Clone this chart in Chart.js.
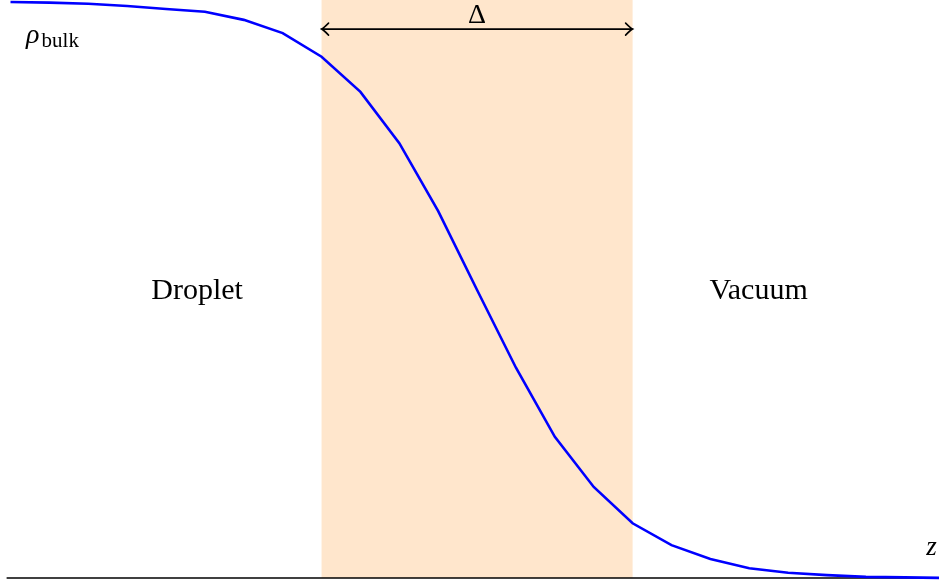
<!DOCTYPE html>
<html>
<head>
<meta charset="utf-8">
<script src="https://cdn.jsdelivr.net/npm/chart.js@4.4.1/dist/chart.umd.min.js"></script>
<style>
  html, body { margin: 0; padding: 0; background: #fff; }
  #wrap { width: 939px; height: 588px; position: relative; }
</style>
</head>
<body>
<div id="wrap"><canvas id="profile"></canvas></div>
<script>
// density profile across the droplet surface, sampled along z
const zSamples = [-12, -11, -10, -9, -8, -7, -6, -5, -4, -3, -2, -1, 0,
                  1, 2, 3, 4, 5, 6, 7, 8, 9, 10, 11, 12];
const density  = [1.000, 0.999, 0.997, 0.993, 0.988, 0.983, 0.969, 0.946, 0.905,
                  0.844, 0.755, 0.637, 0.500, 0.365, 0.245, 0.158, 0.095, 0.057,
                  0.033, 0.017, 0.009, 0.005, 0.002, 0.001, 0.000];

// interface region of width delta
const interfaceStart = -4;
const interfaceEnd   = 4;

const SERIF = "'Liberation Serif', 'DejaVu Serif', serif";

const decorations = {
    id: 'decorations',
    beforeDatasetsDraw(chart) {
        const { ctx, scales: { x, y } } = chart;
        const x0 = x.getPixelForValue(interfaceStart);
        const x1 = x.getPixelForValue(interfaceEnd);
        ctx.save();
        ctx.fillStyle = '#ffe6cc';
        ctx.fillRect(x0, y.top, x1 - x0, y.getPixelForValue(0) - y.top);

        // z axis
        const y0 = y.getPixelForValue(0);
        ctx.strokeStyle = '#000';
        ctx.lineWidth = 1.6;
        ctx.beginPath();
        ctx.moveTo(x.getPixelForValue(-12.1), y0);
        ctx.lineTo(x.right, y0);
        ctx.stroke();
        ctx.restore();
    },
    afterDatasetsDraw(chart) {
        const { ctx, scales: { x, y } } = chart;
        const x0 = x.getPixelForValue(interfaceStart);
        const x1 = x.getPixelForValue(interfaceEnd);
        const ya = y.getPixelForValue(0.953);
        ctx.save();
        ctx.strokeStyle = '#000';
        ctx.lineWidth = 1.6;
        ctx.lineCap = 'round';
        ctx.beginPath();
        ctx.moveTo(x0 + 1, ya);
        ctx.lineTo(x1 - 1, ya);
        // arrow tips
        ctx.moveTo(x0 + 7, ya - 6);
        ctx.quadraticCurveTo(x0 + 2, ya - 1, x0, ya);
        ctx.quadraticCurveTo(x0 + 2, ya + 1, x0 + 7, ya + 6);
        ctx.moveTo(x1 - 7, ya - 6);
        ctx.quadraticCurveTo(x1 - 2, ya - 1, x1, ya);
        ctx.quadraticCurveTo(x1 - 2, ya + 1, x1 - 7, ya + 6);
        ctx.stroke();

        ctx.fillStyle = '#000';
        ctx.textBaseline = 'alphabetic';
        ctx.textAlign = 'center';
        ctx.font = '28px ' + SERIF;
        ctx.fillText('Δ', (x0 + x1) / 2, y.getPixelForValue(0.963));

        ctx.font = '30px ' + SERIF;
        ctx.fillText('Droplet', x.getPixelForValue(-7.2), y.getPixelForValue(0.484));
        ctx.fillText('Vacuum', x.getPixelForValue(7.24), y.getPixelForValue(0.484));

        ctx.textAlign = 'left';
        ctx.font = 'italic 28px ' + SERIF;
        ctx.fillText('ρ', x.getPixelForValue(-11.6), y.getPixelForValue(0.929));
        ctx.font = '21px ' + SERIF;
        ctx.fillText('bulk', x.getPixelForValue(-11.2), y.getPixelForValue(0.922));

        ctx.font = 'italic 27px ' + SERIF;
        ctx.fillText('z', x.getPixelForValue(11.55), y.getPixelForValue(0.04));
        ctx.restore();
    }
};

new Chart(document.getElementById('profile'), {
    type: 'line',
    data: {
        labels: zSamples,
        datasets: [{
            data: zSamples.map((z, i) => ({ x: z, y: density[i] })),
            borderColor: '#0000ff',
            borderWidth: 2.6,
            pointRadius: 0,
            tension: 0,
            fill: false,
            clip: false
        }]
    },
    options: {
        responsive: true, maintainAspectRatio: false,
        animation: false,
        layout: { padding: 0 },
        plugins: { legend: { display: false }, tooltip: { enabled: false } },
        scales: {
            x: { type: 'linear', min: -12.27, max: 11.88, display: false },
            y: { type: 'linear', min: -0.0174, max: 1.0035, display: false }
        }
    },
    plugins: [decorations]
});
</script>
</body>
</html>
